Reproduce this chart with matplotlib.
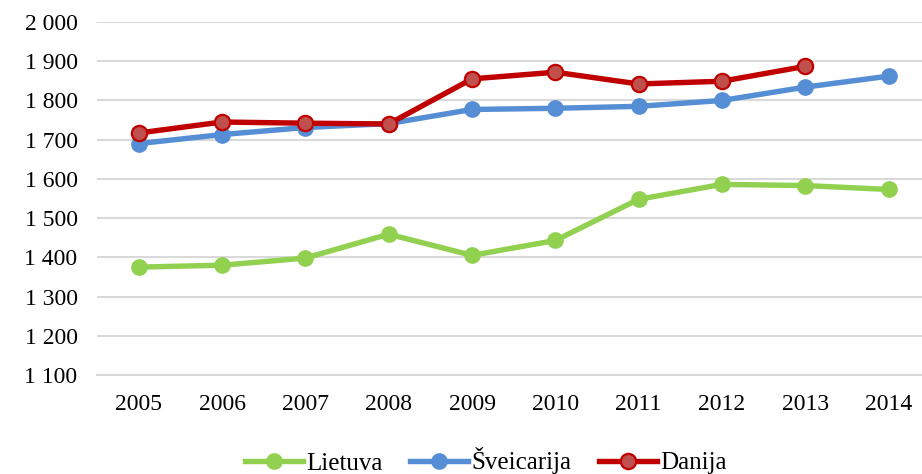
import matplotlib
matplotlib.use("Agg")
import matplotlib.pyplot as plt

years = ["2005", "2006", "2007", "2008", "2009", "2010", "2011", "2012", "2013", "2014"]
lietuva = [1375, 1380, 1398, 1459, 1405, 1443, 1548, 1586, 1583, 1573]
sveicarija = [1690, 1713, 1731, 1741, 1777, 1780, 1785, 1800, 1834, 1862]
danija = [1717, 1745, 1742, 1740, 1855, 1872, 1842, 1849, 1887]
yticks = [1100, 1200, 1300, 1400, 1500, 1600, 1700, 1800, 1900, 2000]
ytick_labels = ["1 100", "1 200", "1 300", "1 400", "1 500", "1 600", "1 700", "1 800", "1 900", "2 000"]

plt.rcParams['font.family'] = ['Liberation Serif', 'DejaVu Serif']

W, H = 922, 474
fig = plt.figure(figsize=(W / 100, H / 100), dpi=100)
left, right, top, bottom = 97, 922, 22, 375
ax = fig.add_axes([left / W, 1 - bottom / H, (right - left) / W, (bottom - top) / H])

x = list(range(len(years)))
lw, ms = 3.9, 11
ax.plot(x, lietuva, color="#92D050", lw=lw, marker="o", ms=ms,
        markerfacecolor="#92D050", markeredgecolor="#92D050", label="Lietuva", zorder=3)
ax.plot(x, sveicarija, color="#558ED5", lw=lw, marker="o", ms=ms,
        markerfacecolor="#558ED5", markeredgecolor="#558ED5", label="Šveicarija", zorder=3)
ax.plot(x[:len(danija)], danija, color="#C00000", lw=lw, marker="o", ms=ms,
        markerfacecolor="#C0504D", markeredgecolor="#C00000", markeredgewidth=1.6,
        label="Danija", zorder=4)

ax.set_ylim(1100, 2000)
ax.set_xlim(-0.5, 9.4)
ax.set_yticks(yticks)
ax.set_yticklabels(ytick_labels)
ax.set_xticks(x)
ax.set_xticklabels(years)
ax.yaxis.grid(True, color="#D9D9D9", lw=1.5)
ax.set_axisbelow(True)
for s in ["top", "right", "left"]:
    ax.spines[s].set_visible(False)
ax.spines["bottom"].set_color("#D9D9D9")
ax.spines["bottom"].set_linewidth(1.5)
ax.tick_params(axis="both", length=0, labelsize=17, colors="#000000")
ax.tick_params(axis="y", pad=14)
ax.tick_params(axis="x", pad=14)

fig.legend(loc="center", bbox_to_anchor=(486 / W, 1 - 461 / H), ncol=3, frameon=False,
           fontsize=18, handlelength=2.3, columnspacing=1.1, handletextpad=0.15,
           borderaxespad=0)

fig.savefig("out.png", dpi=100)
